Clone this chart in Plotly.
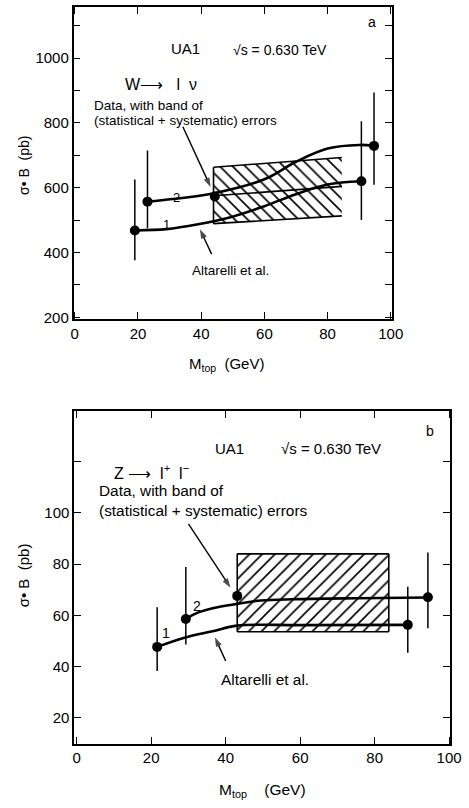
import plotly.graph_objects as go

W, H = 469, 808
FONT = "Liberation Sans, Arial, sans-serif"

# ---------------- Panel a : W -> l nu ----------------
a_pts_x = [19.0, 23.0, 44.3, 90.7, 94.7]
a_pts_y = [468, 557, 573, 620, 729]
a_err_up = [157, 158, 0, 185, 165]
a_err_dn = [92, 82, 0, 120, 120]

a_c1_x = [19, 29, 39, 49, 60, 70, 80, 90.7]
a_c1_y = [468, 472, 487, 508, 543, 580, 610, 620]
a_c2_x = [23, 31, 44, 60, 70, 80, 90, 94.7]
a_c2_y = [557, 565, 583, 626, 680, 721, 732, 729]

a_band_x = [43.9, 84.5]
a_band_top = [663, 693]
a_band_mid = [575, 604]
a_band_bot = [489, 513]

# annotation arrows (tail -> head)
a_arrows = [((34.2, 788), (43.0, 602)), ((43.3, 395), (39.6, 472))]

# ---------------- Panel b : Z -> l+ l- ----------------
b_pts_x = [21.6, 29.3, 43.1, 88.9, 94.3]
b_pts_y = [47.7, 58.6, 67.6, 56.3, 67.1]
b_err_up = [15.5, 20.3, 0, 14.9, 17.4]
b_err_dn = [9.4, 10.0, 0, 10.9, 12.1]

b_c1_x = [21.6, 28.7, 36.5, 43.1, 60, 88.9]
b_c1_y = [47.7, 51.2, 53.8, 56.0, 56.2, 56.3]
b_c2_x = [29.3, 32.2, 36.5, 43.1, 49.5, 58.1, 75.4, 94.3]
b_c2_y = [58.6, 60.9, 62.8, 64.5, 65.8, 66.3, 66.7, 67.0]

b_band_x = [43.1, 83.8]
b_band_top = [84.0, 84.0]
b_band_bot = [53.6, 53.6]

b_arrows = [((30.0, 95.7), (41.3, 70.8)), ((40.0, 42.2), (37.1, 51.5))]

x_ticks = [0, 20, 40, 60, 80, 100]
a_y_ticks = [200, 400, 600, 800, 1000]
b_y_ticks = [20, 40, 60, 80, 100]


def px(x):
    return x / W


def py(y):
    return 1 - y / H


fig = go.Figure()


def add_panel(xa, ya, band_x, band_top, band_bot, band_mid, hatch, right_edge,
              c1x, c1y, c2x, c2y, ptx, pty, eup, edn, arrows):
    # hatched band
    fig.add_trace(go.Scatter(
        x=[band_x[0], band_x[1], band_x[1], band_x[0], band_x[0]],
        y=[band_top[0], band_top[1], band_bot[1], band_bot[0], band_top[0]],
        fill="toself", mode="lines", line=dict(width=0, color="rgba(0,0,0,0)"),
        fillcolor="rgba(255,255,255,0)",
        fillpattern=dict(shape=hatch, size=9, solidity=0.18, fgcolor="black",
                         bgcolor="white", fgopacity=1),
        xaxis=xa, yaxis=ya, hoverinfo="skip", showlegend=False))
    edge_line = dict(color="black", width=1.6)
    fig.add_trace(go.Scatter(x=band_x, y=band_top, mode="lines", line=edge_line,
                             xaxis=xa, yaxis=ya, showlegend=False))
    fig.add_trace(go.Scatter(x=band_x, y=band_bot, mode="lines", line=edge_line,
                             xaxis=xa, yaxis=ya, showlegend=False))
    if band_mid is not None:
        fig.add_trace(go.Scatter(x=band_x, y=band_mid, mode="lines", line=edge_line,
                                 xaxis=xa, yaxis=ya, showlegend=False))
    fig.add_trace(go.Scatter(x=[band_x[0], band_x[0]], y=[band_bot[0], band_top[0]],
                             mode="lines", line=edge_line,
                             xaxis=xa, yaxis=ya, showlegend=False))
    if right_edge:
        fig.add_trace(go.Scatter(x=[band_x[1], band_x[1]], y=[band_bot[1], band_top[1]],
                                 mode="lines", line=edge_line,
                                 xaxis=xa, yaxis=ya, showlegend=False))
    # theory curves
    for cx, cy in ((c1x, c1y), (c2x, c2y)):
        fig.add_trace(go.Scatter(x=cx, y=cy, mode="lines",
                                 line=dict(color="black", width=2.6, shape="spline",
                                           smoothing=1.0),
                                 xaxis=xa, yaxis=ya, showlegend=False))
    # data points with error bars
    fig.add_trace(go.Scatter(
        x=ptx, y=pty, mode="markers",
        marker=dict(color="black", size=10),
        error_y=dict(type="data", symmetric=False, array=eup, arrayminus=edn,
                     color="black", thickness=1.5, width=0),
        xaxis=xa, yaxis=ya, showlegend=False))
    # pointer arrows
    for (tx, ty), (hx, hy) in arrows:
        fig.add_trace(go.Scatter(
            x=[tx, hx], y=[ty, hy], mode="lines+markers",
            line=dict(color="black", width=1.4),
            marker=dict(symbol="arrow", size=[0, 10], angleref="previous",
                        color="black", line=dict(width=0)),
            xaxis=xa, yaxis=ya, hoverinfo="skip", showlegend=False))


add_panel("x", "y", a_band_x, a_band_top, a_band_bot, a_band_mid, "\\", False,
          a_c1_x, a_c1_y, a_c2_x, a_c2_y, a_pts_x, a_pts_y, a_err_up, a_err_dn,
          a_arrows)
add_panel("x2", "y2", b_band_x, b_band_top, b_band_bot, None, "/", True,
          b_c1_x, b_c1_y, b_c2_x, b_c2_y, b_pts_x, b_pts_y, b_err_up, b_err_dn,
          b_arrows)

axis_common = dict(showline=True, linecolor="black", linewidth=1.5, mirror="ticks",
                   ticks="inside", ticklen=7, tickwidth=1.3, tickcolor="black",
                   showgrid=False, zeroline=False,
                   tickfont=dict(family=FONT, size=15, color="black"))
minor_common = dict(ticks="inside", ticklen=7, tickwidth=1.3, tickcolor="black",
                    showgrid=False)

fig.update_layout(
    width=W, height=H, margin=dict(l=0, r=0, t=0, b=0),
    plot_bgcolor="white", paper_bgcolor="white",
    font=dict(family=FONT, color="black"),
    xaxis=dict(domain=[px(72.7), px(401)], range=[-0.4, 100.4], anchor="y",
               tickmode="array", tickvals=x_ticks,
               ticktext=[str(v) for v in x_ticks], **axis_common),
    yaxis=dict(domain=[py(321.7), py(7.3)], range=[195, 1157], anchor="x",
               tickmode="array", tickvals=a_y_ticks,
               ticktext=[str(v) for v in a_y_ticks],
               minor=dict(tick0=0, dtick=100, **minor_common), **axis_common),
    xaxis2=dict(domain=[px(73.3), px(461)], range=[-0.7, 100.3], anchor="y2",
                tickmode="array", tickvals=x_ticks,
                ticktext=[str(v) for v in x_ticks], **axis_common),
    yaxis2=dict(domain=[py(750), py(415)], range=[10, 139.6], anchor="x2",
                tickmode="array", tickvals=b_y_ticks,
                ticktext=[str(v) for v in b_y_ticks],
                minor=dict(tick0=0, dtick=20, **minor_common), **axis_common),
)

anns = []


def txt(x, y, s, size=13, xanchor="left", angle=0):
    anns.append(dict(x=px(x), y=py(y), xref="paper", yref="paper", text=s,
                     showarrow=False, xanchor=xanchor, yanchor="middle",
                     textangle=angle, font=dict(family=FONT, size=size, color="black")))


# Panel a text
txt(380, 22, "a", 14, "center")
txt(188, 49, "UA1", 15, "center")
txt(235, 50, "√s = 0.630 TeV", 14)
txt(124, 85, "W⟶   l  ν", 16)
txt(91.5, 106, "Data, with band of", 13.5)
txt(91.5, 121.5, "(statistical + systematic) errors", 13.5)
txt(193, 273, "Altarelli et al.", 13.5)
txt(178.5, 199, "2", 13, "center")
txt(168.5, 226, "1", 13, "center")
txt(21, 167, "σ• B  (pb)", 14, "center", -90)
txt(230, 368, "M<sub>top</sub>  (GeV)", 15, "center")

# Panel b text
txt(440, 435, "b", 14, "center")
txt(233, 452, "UA1", 15, "center")
txt(285, 452, "√s = 0.630 TeV", 15)
txt(112, 476, "Z ⟶  l<sup>+</sup>  l<sup>−</sup>", 16)
txt(96.5, 495, "Data, with band of", 15.4)
txt(96.5, 514.5, "(statistical + systematic) errors", 15.4)
txt(222.5, 685, "Altarelli et al.", 15.4)
txt(200, 611, "2", 14, "center")
txt(168.5, 639, "1", 14, "center")
txt(22, 580, "σ• B  (pb)", 15, "center", -90)
txt(267, 797, "M<sub>top</sub>    (GeV)", 15.5, "center")

fig.update_layout(annotations=anns)
fig.write_html("out.html")
